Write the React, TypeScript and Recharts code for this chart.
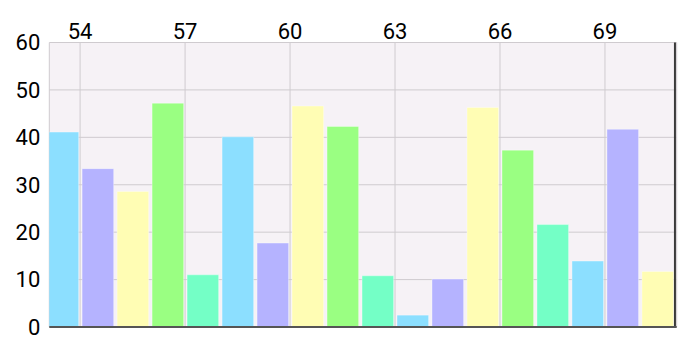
import { ComposedChart, Bar, Cell, XAxis, YAxis, CartesianGrid, ReferenceLine } from 'recharts';

// x position of each bar and its value
const xValues = [53.5, 54.5, 55.5, 56.5, 57.5, 58.5, 59.5, 60.5, 61.5, 62.5, 63.5, 64.5, 65.5, 66.5, 67.5, 68.5, 69.5, 70.5];
const values = [41.1, 33.4, 28.6, 47.2, 11.0, 40.1, 17.7, 46.6, 42.3, 10.8, 2.5, 10.1, 46.3, 37.3, 21.6, 13.9, 41.7, 11.7];
const xTicks = [54, 57, 60, 63, 66, 69];
const yTicks = [0, 10, 20, 30, 40, 50, 60];
const colors = ['#8CDFFF', '#B5B3FF', '#FFFDB4', '#9AFF82', '#74FFC6'];

const xDomain: [number, number] = [53.12, 71.05];
const data = xValues.map((x, i) => ({ x, value: values[i] }));

const tickStyle = { fontSize: 22, fontFamily: 'Roboto, sans-serif', fill: '#000' };

export default function App() {
  return (
    <div style={{ position: 'absolute', left: 0, top: 0 }}>
      <ComposedChart width={700} height={352} data={data} margin={{ top: 0, right: 23.3, bottom: 25, left: 0 }}>
        <CartesianGrid fill="#F6F2F6" stroke="#CFCBCF" strokeWidth={1} />
        <XAxis
          dataKey="x"
          type="number"
          orientation="top"
          domain={xDomain}
          allowDataOverflow
          ticks={xTicks}
          height={42.5}
          axisLine={false}
          tickLine={false}
          tickSize={0}
          tickMargin={3.5}
          tick={tickStyle}
          interval={0}
        />
        <YAxis
          domain={[0, 60]}
          ticks={yTicks}
          width={49.3}
          axisLine={false}
          tickLine={false}
          tickMargin={3}
          tick={tickStyle}
          interval={0}
        />
        <Bar dataKey="value" barSize={31.6} isAnimationActive={false} stroke="rgba(255,255,255,0.35)" strokeWidth={1}>
          {data.map((_, i) => (
            <Cell key={i} fill={colors[i % colors.length]} />
          ))}
        </Bar>
        {/* right frame edge */}
        <ReferenceLine x={71} stroke="#3A3A3A" strokeWidth={2} ifOverflow="visible" />
        <ReferenceLine y={0} stroke="#555" strokeWidth={2} />
      </ComposedChart>
    </div>
  );
}
